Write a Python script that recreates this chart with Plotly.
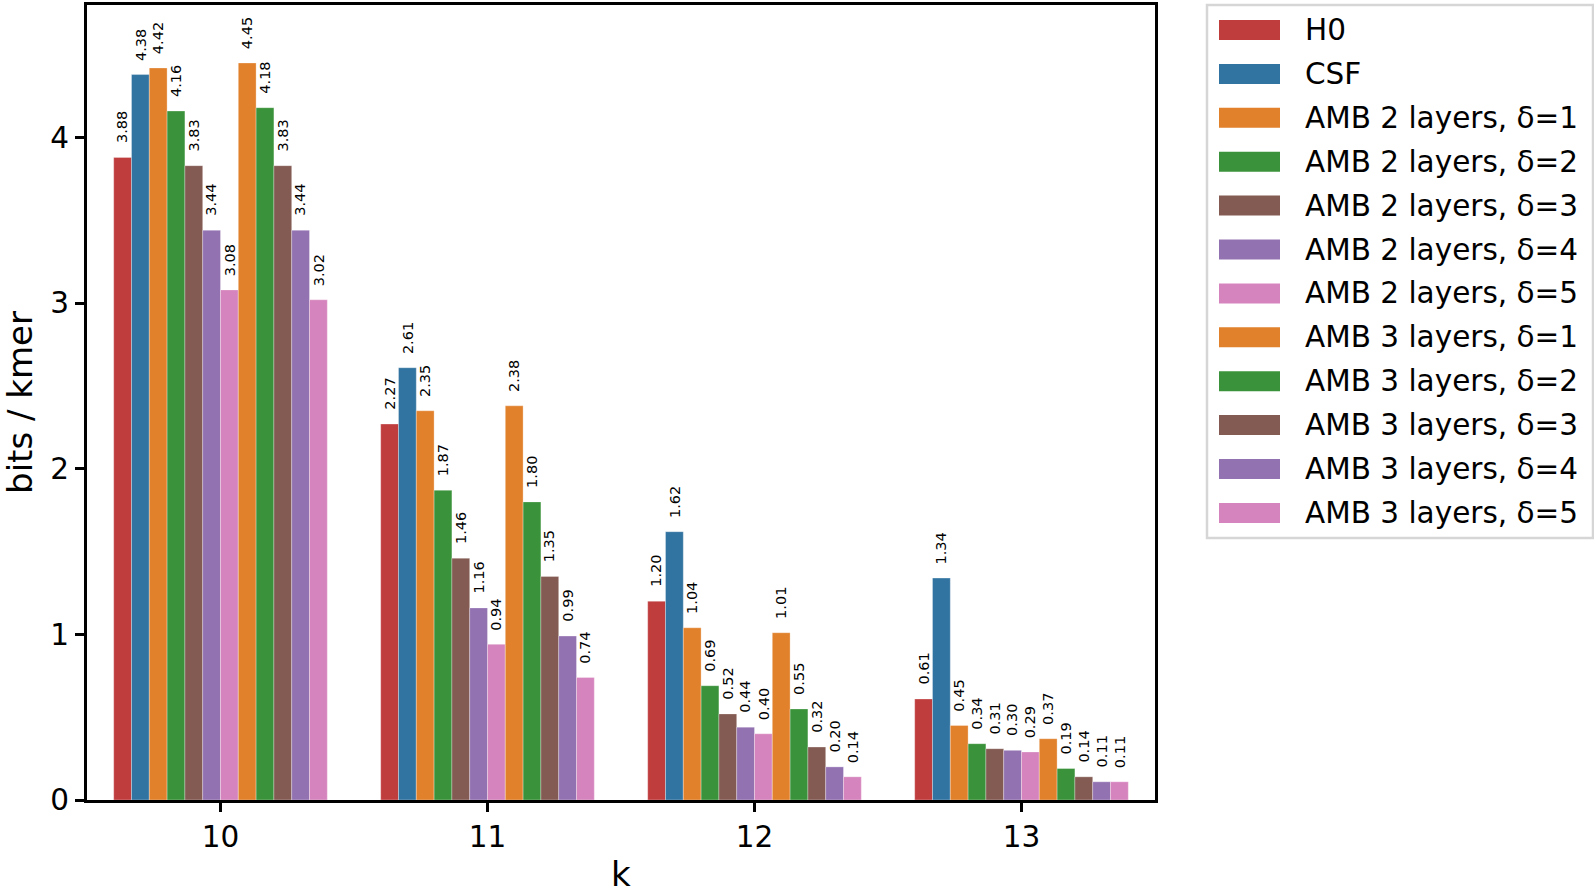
import plotly.graph_objects as go

k_labels = ["10", "11", "12", "13"]
series_names = [
    "H0", "CSF",
    "AMB 2 layers, δ=1", "AMB 2 layers, δ=2", "AMB 2 layers, δ=3",
    "AMB 2 layers, δ=4", "AMB 2 layers, δ=5",
    "AMB 3 layers, δ=1", "AMB 3 layers, δ=2", "AMB 3 layers, δ=3",
    "AMB 3 layers, δ=4", "AMB 3 layers, δ=5",
]
h0 = [3.88, 2.27, 1.20, 0.61]
csf = [4.38, 2.61, 1.62, 1.34]
amb2_d1 = [4.42, 2.35, 1.04, 0.45]
amb2_d2 = [4.16, 1.87, 0.69, 0.34]
amb2_d3 = [3.83, 1.46, 0.52, 0.31]
amb2_d4 = [3.44, 1.16, 0.44, 0.30]
amb2_d5 = [3.08, 0.94, 0.40, 0.29]
amb3_d1 = [4.45, 2.38, 1.01, 0.37]
amb3_d2 = [4.18, 1.80, 0.55, 0.19]
amb3_d3 = [3.83, 1.35, 0.32, 0.14]
amb3_d4 = [3.44, 0.99, 0.20, 0.11]
amb3_d5 = [3.02, 0.74, 0.14, 0.11]
series_values = [h0, csf, amb2_d1, amb2_d2, amb2_d3, amb2_d4, amb2_d5,
                 amb3_d1, amb3_d2, amb3_d3, amb3_d4, amb3_d5]
colors = ["#C03D3E", "#3274A1", "#E1812C", "#3A923A", "#845B53", "#9372B2",
          "#D684BD", "#E1812C", "#3A923A", "#845B53", "#9372B2", "#D684BD"]

FONT = "DejaVu Sans"
W, H = 1594, 887
ML, MR, MT, MB = 87, 439, 5, 87
PW = W - ML - MR
PH = H - MT - MB

n = len(series_names)
group_w = 0.8
bw = group_w / n
xs = list(range(len(k_labels)))

fig = go.Figure()
annotations = []
for j, (name, vals, col) in enumerate(zip(series_names, series_values, colors)):
    fig.add_trace(go.Bar(
        x=xs, y=vals, name=name,
        marker=dict(color=col, line=dict(width=0.6, color="rgba(255,255,255,0.5)")),
        showlegend=False,
    ))
    for i, v in enumerate(vals):
        annotations.append(dict(
            x=i - group_w / 2 + (j + 0.5) * bw, y=v, xref="x", yref="y",
            text=f"{v:.2f}", showarrow=False, textangle=-90,
            xanchor="center", yanchor="bottom", yshift=12,
            font=dict(family=FONT, size=14.5, color="black"),
        ))

# custom legend (matplotlib style)
def px_x(p):
    return (p - ML) / PW

def px_y(p):
    return (H - MB - p) / PH

shapes = [dict(type="rect", xref="paper", yref="paper",
               x0=px_x(1207), x1=px_x(1593), y0=px_y(538), y1=px_y(5),
               line=dict(color="#d6d6d6", width=2.5), fillcolor="white", layer="below")]
row0, row_step = 30, 43.9
for j, (name, col) in enumerate(zip(series_names, colors)):
    cy = row0 + j * row_step
    shapes.append(dict(type="rect", xref="paper", yref="paper",
                       x0=px_x(1219), x1=px_x(1280), y0=px_y(cy + 10), y1=px_y(cy - 10),
                       line=dict(width=0), fillcolor=col))
    annotations.append(dict(x=px_x(1303), y=px_y(cy), xref="paper", yref="paper",
                            text=name, showarrow=False, xanchor="left", yanchor="middle",
                            font=dict(family=FONT, size=29.5, color="black")))

# x-axis title placed like the reference (partly cut by the bottom edge)
annotations.append(dict(x=0.5, y=px_y(852), xref="paper", yref="paper", text="k",
                        showarrow=False, xanchor="center", yanchor="top",
                        font=dict(family=FONT, size=34, color="black")))

fig.update_layout(
    width=W, height=H, autosize=False,
    margin=dict(l=ML, r=MR, t=MT, b=MB, pad=0, autoexpand=False),
    barmode="group", bargap=0.2, bargroupgap=0,
    paper_bgcolor="white", plot_bgcolor="white",
    font=dict(family=FONT, size=29.5, color="black"),
    showlegend=False,
    annotations=annotations, shapes=shapes,
    xaxis=dict(range=[-0.5, 3.5], tickvals=xs, ticktext=k_labels, automargin=False,
               showgrid=False, zeroline=False, showline=True, linecolor="black",
               linewidth=3, mirror=True, ticks="outside", ticklen=9, tickwidth=3,
               tickcolor="black"),
    yaxis=dict(range=[0, 4.8], tickvals=[0, 1, 2, 3, 4], showgrid=False, zeroline=False,
               automargin=False,
               showline=True, linecolor="black", linewidth=3, mirror=True,
               ticks="outside", ticklen=9, tickwidth=3, tickcolor="black",
               title=dict(text="bits / kmer", standoff=12, font=dict(size=34))),
)

fig.write_html("out.html", config={"displayModeBar": False},
               post_script="document.body.style.margin='0';document.body.style.overflow='hidden';")
